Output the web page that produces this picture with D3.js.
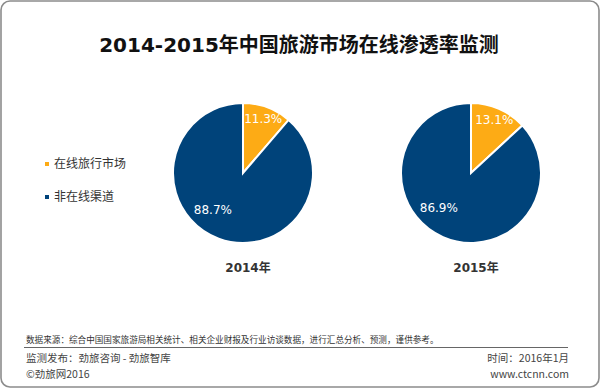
<!DOCTYPE html>
<meta charset="utf-8">
<style>
    body { margin: 0; background: #fff; }
    text { font-family: "DejaVu Sans", "Noto Sans CJK SC", sans-serif; }
    .cjk { font-family: "Noto Sans CJK SC", sans-serif; }
</style>
<svg width="600" height="388"></svg>
<script src="https://d3js.org/d3.v7.min.js"></script>
<script>
    // data
    var years = ["2014年", "2015年"];
    var categories = ["在线旅行市场", "非在线渠道"];
    var online = [11.3, 13.1];
    var offline = [88.7, 86.9];

    var colors = ["#fdab15", "#00437a"];

    var svg = d3.select("svg"),
        width = +svg.attr("width"),
        height = +svg.attr("height");

    // frame
    svg.append("rect")
        .attr("x", 1).attr("y", 1)
        .attr("width", width - 2).attr("height", height - 2)
        .attr("rx", 9)
        .attr("fill", "#fff")
        .attr("stroke", "#8c8c8c")
        .attr("stroke-width", 1.6);

    svg.append("text")
        .attr("x", 299)
        .attr("y", 52)
        .attr("text-anchor", "middle")
        .attr("font-size", 20)
        .attr("font-weight", "bold")
        .attr("fill", "#111")
        .text("2014-2015年中国旅游市场在线渗透率监测");

    var x = d3.scalePoint().domain(years).range([243, 471]);
    var cy = 173, radius = 70;

    var pie = d3.pie().sort(null).value(function (d) { return d.value; });
    var arc = d3.arc().innerRadius(0).outerRadius(radius);

    years.forEach(function (yr, i) {
        var rows = [
            { key: categories[0], value: online[i] },
            { key: categories[1], value: offline[i] }
        ];
        var g = svg.append("g")
            .attr("transform", "translate(" + x(yr) + "," + cy + ")");

        var slices = pie(rows);
        g.selectAll("path")
            .data(slices)
            .enter().append("path")
            .attr("d", arc)
            .attr("fill", function (d, j) { return colors[j]; })
            .attr("stroke", "#fff")
            .attr("stroke-width", 2);

        g.selectAll("text.pct")
            .data(slices)
            .enter().append("text")
            .attr("class", "pct")
            .attr("transform", function (d, j) {
                // small slice near the rim, big slice a bit inward and rotated
                var a = (d.startAngle + d.endAngle) / 2 + (j === 0 ? 0 : 0.33),
                    r = j === 0 ? radius * 0.83 : radius * 0.68;
                return "translate(" + (r * Math.sin(a)) + "," + (-r * Math.cos(a)) + ")";
            })
            .attr("text-anchor", "middle")
            .attr("dy", "0.35em")
            .attr("font-size", 12)
            .attr("fill", "#fff")
            .text(function (d) { return d.value.toFixed(1) + "%"; });

        svg.append("text")
            .attr("x", x(yr) + 5)
            .attr("y", 272)
            .attr("text-anchor", "middle")
            .attr("font-size", 12)
            .attr("font-weight", "bold")
            .attr("fill", "#333")
            .text(yr);
    });

    // legend
    var legend = svg.append("g")
        .selectAll("g")
        .data(categories)
        .enter().append("g")
        .attr("transform", function (d, i) { return "translate(45," + (164 + i * 33) + ")"; });

    legend.append("rect")
        .attr("y", -2)
        .attr("width", 4)
        .attr("height", 4)
        .attr("fill", function (d, i) { return colors[i]; });

    legend.append("text")
        .attr("class", "cjk")
        .attr("x", 9)
        .attr("dy", "0.35em")
        .attr("font-size", 12)
        .attr("fill", "#333")
        .text(function (d) { return d; });

    // footer
    svg.append("text")
        .attr("class", "cjk")
        .attr("x", 26)
        .attr("y", 343)
        .attr("font-size", 8.6)
        .attr("fill", "#333")
        .text("数据来源：综合中国国家旅游局相关统计、相关企业财报及行业访谈数据，进行汇总分析、预测，谨供参考。");

    svg.append("line")
        .attr("x1", 24).attr("x2", 568)
        .attr("y1", 347.5).attr("y2", 347.5)
        .attr("stroke", "#666")
        .attr("stroke-width", 1);

    svg.append("text")
        .attr("class", "cjk")
        .attr("x", 26).attr("y", 362)
        .attr("font-size", 10.5)
        .attr("fill", "#444")
        .text("监测发布：劲旅咨询 - 劲旅智库");

    svg.append("text")
        .attr("class", "cjk")
        .attr("x", 26).attr("y", 378)
        .attr("font-size", 10.5)
        .attr("fill", "#444")
        .text("©劲旅网2016");

    svg.append("text")
        .attr("class", "cjk")
        .attr("x", 569).attr("y", 362)
        .attr("text-anchor", "end")
        .attr("font-size", 10.5)
        .attr("fill", "#444")
        .text("时间：2016年1月");

    svg.append("text")
        .attr("class", "cjk")
        .attr("x", 569).attr("y", 378)
        .attr("text-anchor", "end")
        .attr("font-size", 10.5)
        .attr("fill", "#444")
        .text("www.ctcnn.com");
</script>
